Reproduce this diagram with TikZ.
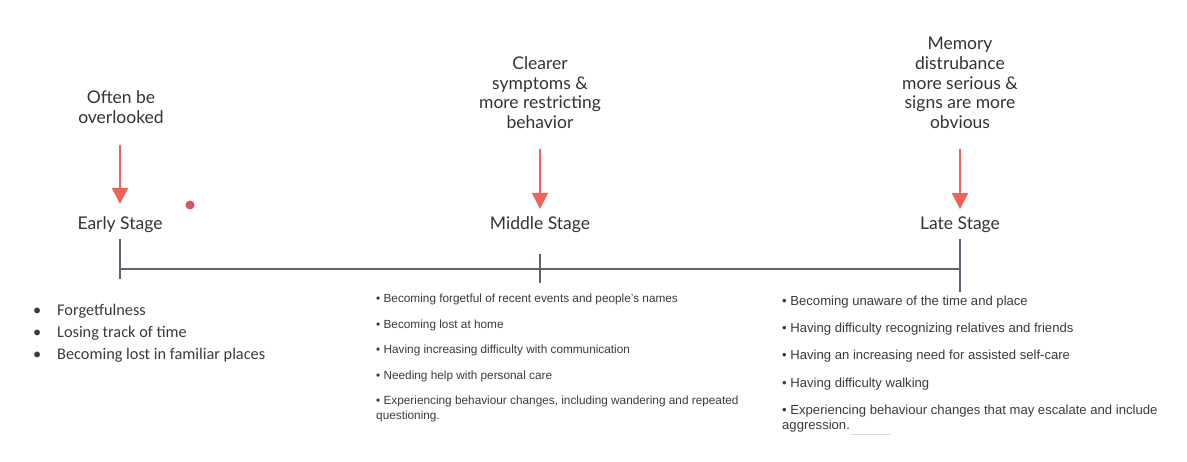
\documentclass[tikz,border=0pt]{standalone}
\usepackage{fontspec}
\setmainfont{Liberation Sans}
\newfontfamily\latofont{Lato}
\newfontfamily\carlitofont{Carlito}
\usetikzlibrary{arrows.meta, positioning}
\definecolor{LineGray}{HTML}{5B6370}
\definecolor{ArrowRed}{HTML}{F0625A}
\definecolor{DotRed}{HTML}{E05064}
\definecolor{TextGray}{HTML}{333333}
\definecolor{ListGray}{HTML}{3A3A3A}
\tikzset{
  stage/.style={font=\latofont\fontsize{17.5}{20}\selectfont, text=TextGray, inner sep=0pt, anchor=base},
  note/.style={font=\latofont\fontsize{17.5}{19.8}\selectfont, text=TextGray, align=center, inner sep=0pt, anchor=south},
  marker/.style={draw=ArrowRed, line width=1.8pt, -{Triangle[width=16pt,length=16pt]}},
  axis/.style={draw=LineGray, line width=2pt},
  spot/.style={circle, fill=DotRed, inner sep=0pt, minimum size=9pt},
  early list/.style={font=\carlitofont\fontsize{16.3}{22}\selectfont, text=ListGray, align=left, inner sep=0pt, anchor=north west},
  mid list/.style={font=\fontsize{11.8}{15}\selectfont, text=ListGray, align=left, inner sep=0pt, anchor=north west},
  late list/.style={font=\fontsize{13.1}{15}\selectfont, text=ListGray, align=left, inner sep=0pt, anchor=north west}
}
\newcommand{\bul}{\makebox[24pt][l]{\textbullet}}

\begin{document}
\begin{tikzpicture}[x=1pt, y=-1pt]
\useasboundingbox (0,0) rectangle (1187,461);
% timeline
\coordinate (eTick) at (120,269);
\coordinate (mTick) at (540,269);
\coordinate (lTick) at (960,269);
\draw[axis] (eTick) -- (lTick);
\draw[axis] (120,239) -- (120,279);
\draw[axis] (540,254) -- (540,283);
\draw[axis] (960,239) -- (960,292);
% stages
\node[stage] (eStage) at (120,229) {Early Stage};
\node[stage] (mStage) at (540,229) {Middle Stage};
\node[stage] (lStage) at (960,229) {Late Stage};
\node[note] (eNote) at (121,124) {Often be\\overlooked};
\node[note] (mNote) at (540,129) {Clearer\\symptoms \&\\more restricting\\behavior};
\node[note] (lNote) at (960,129) {Memory\\distrubance\\more serious \&\\signs are more\\obvious};
\draw[marker, shorten <=21pt, shorten >=12pt] (eNote.south -| eStage) -- (eStage);
\draw[marker, shorten <=20pt, shorten >=7pt] (mNote) -- (mStage);
\draw[marker, shorten <=20pt, shorten >=7pt] (lNote) -- (lStage);
\node[spot] (dot) at (190,205) {};
% lists
\node[early list] (eList) at (33,304) {\bul Forgetfulness\\\bul Losing track of time\\\bul Becoming lost in familiar places};
\node[mid list] (mList) at (376,294) {\textbullet\ Becoming forgetful of recent events and people's names\\[10.5pt]
\textbullet\ Becoming lost at home\\[10.5pt]
\textbullet\ Having increasing difficulty with communication\\[10.5pt]
\textbullet\ Needing help with personal care\\[10.5pt]
\textbullet\ Experiencing behaviour changes, including wandering and repeated\\questioning.};
\node[late list] (lList) at (782,295.5) {\textbullet\ Becoming unaware of the time and place\\[12.4pt]
\textbullet\ Having difficulty recognizing relatives and friends\\[12.4pt]
\textbullet\ Having an increasing need for assisted self-care\\[12.4pt]
\textbullet\ Having difficulty walking\\[12.4pt]
\textbullet\ Experiencing behaviour changes that may escalate and include\\aggression.};
\draw[black!15, line width=1pt] (851,434) -- (891,434);
\end{tikzpicture}
\end{document}
